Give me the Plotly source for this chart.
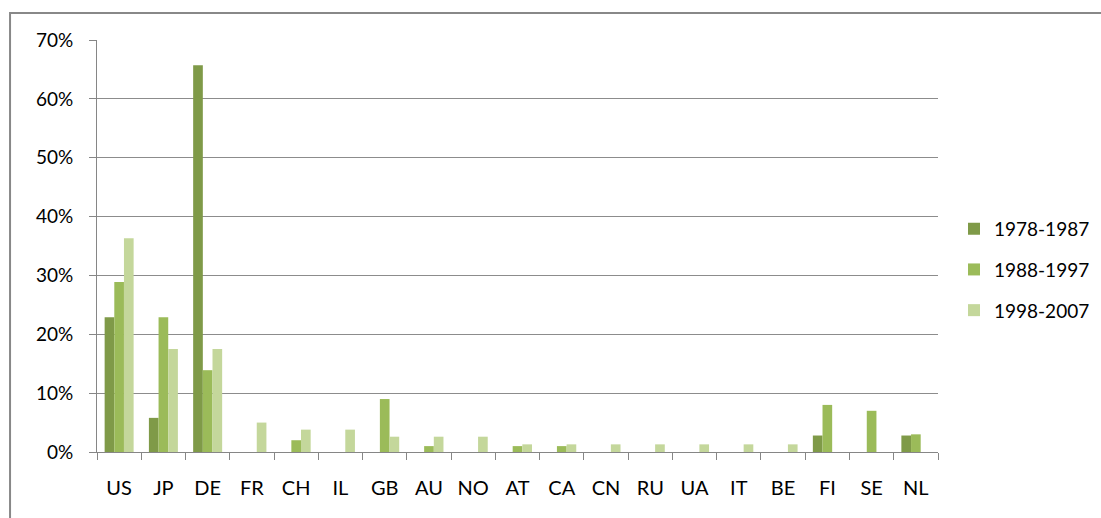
import plotly.graph_objects as go

countries = ["US", "JP", "DE", "FR", "CH", "IL", "GB", "AU", "NO", "AT",
             "CA", "CN", "RU", "UA", "IT", "BE", "FI", "SE", "NL"]
p1978_1987 = [22.9, 5.8, 65.7, 0, 0, 0, 0, 0, 0, 0, 0, 0, 0, 0, 0, 0, 2.8, 0, 2.8]
p1988_1997 = [28.9, 22.9, 13.9, 0, 2.0, 0, 9.0, 1.0, 0, 1.0, 1.0, 0, 0, 0, 0, 0, 8.0, 7.0, 3.0]
p1998_2007 = [36.3, 17.5, 17.5, 5.0, 3.8, 3.8, 2.6, 2.6, 2.6, 1.3,
              1.3, 1.3, 1.3, 1.3, 1.3, 1.3, 0, 0, 0]
series_names = ["1978-1987", "1988-1997", "1998-2007"]
colors = ["#7f9a48", "#9bbb59", "#c4d79b"]

fig = go.Figure()
for name, vals, col in zip(series_names, [p1978_1987, p1988_1997, p1998_2007], colors):
    fig.add_trace(go.Bar(x=countries, y=vals, name=name, marker_color=col,
                         marker_line_width=0, legendgroup=name))

fam = "Lato, 'Open Sans', sans-serif"
xfont = dict(family=fam, size=20, color="#000000")
yfont = dict(family=fam, size=19, color="#000000")
fig.update_layout(
    width=1101, height=518,
    margin=dict(l=97, r=163, t=40, b=66, autoexpand=False),
    paper_bgcolor="white", plot_bgcolor="white",
    barmode="group", bargap=0.345, bargroupgap=0,
    font=xfont,
    showlegend=True,
    legend=dict(x=1.019, xanchor="left", y=0.442, yanchor="middle",
                traceorder="grouped", tracegroupgap=13,
                font=dict(family=fam, size=19, color="#000000"),
                itemwidth=30),
    xaxis=dict(type="category", showline=True, linecolor="#868686", linewidth=1,
               ticks="outside", tickson="boundaries", ticklen=7, tickcolor="#868686",
               showgrid=False, tickfont=xfont, ticklabelstandoff=18),
    yaxis=dict(range=[0, 70], dtick=10, ticksuffix="%", showline=True,
               linecolor="#868686", linewidth=1, ticks="outside", ticklen=7,
               tickcolor="#868686", showgrid=True, gridcolor="#8c8c8c", gridwidth=1,
               zeroline=False, tickfont=yfont, ticklabelstandoff=12),
    shapes=[dict(type="rect", xref="paper", yref="paper",
                 x0=-0.1034, x1=1.25, y0=-0.2, y1=1.0655,
                 line=dict(color="#888888", width=2), fillcolor="rgba(0,0,0,0)",
                 layer="below")],
)

fig.write_html("out.html")
